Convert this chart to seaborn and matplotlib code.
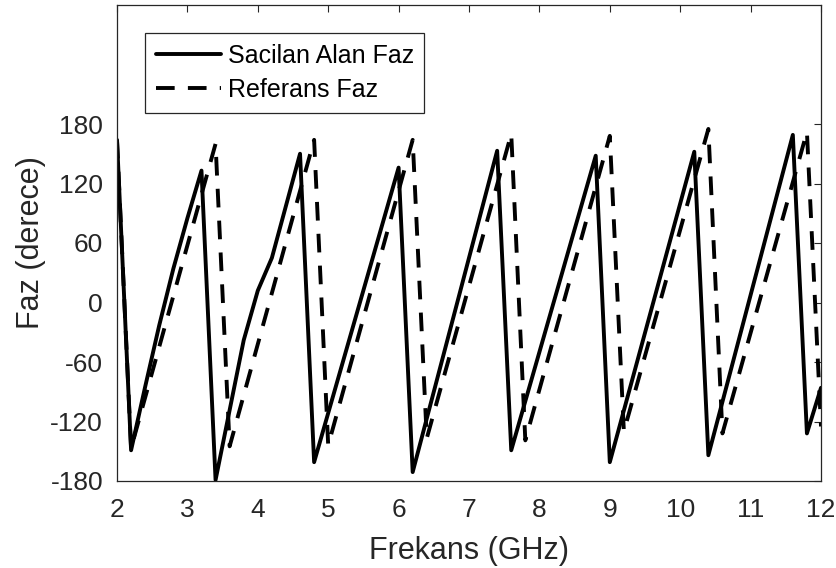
import matplotlib
matplotlib.use("Agg")
import matplotlib.pyplot as plt
import seaborn as sns
import pandas as pd

# Data (vertices of the polylines)
freq_sacilan = [2.0, 2.2, 2.4, 2.6, 2.8, 3.0, 3.2, 3.4, 3.8, 4.0, 4.2, 4.6, 4.8,
                6.0, 6.2, 7.4, 7.6, 8.8, 9.0, 10.2, 10.4, 11.6, 11.8, 12.0]
faz_sacilan = [164, -149, -85, -23, 34, 85, 133, -179, -38, 12, 45, 150, -161,
               136, -171, 153, -149, 148, -161, 152, -154, 169, -132, -86]

freq_referans = [2.0, 2.2, 3.4, 3.6, 4.8, 5.0, 6.2, 6.4, 7.6, 7.8, 9.0, 9.2,
                 10.4, 10.6, 11.8, 12.0]
faz_referans = [164, -147, 160, -145, 164, -144, 164, -137, 170, -139, 168, -130,
                175, -132, 172, -125]

series_labels = ["Sacilan Alan Faz", "Referans Faz"]
x_ticks = [2, 3, 4, 5, 6, 7, 8, 9, 10, 11, 12]
y_ticks = [-180, -120, -60, 0, 60, 120, 180]
x_label = "Frekans (GHz)"
y_label = "Faz (derece)"

sns.set_theme(style="white")
plt.rcParams["font.family"] = ["Liberation Sans", "DejaVu Sans"]

dark = "#262626"
fig = plt.figure(figsize=(8.37, 5.68), dpi=100)
ax = fig.add_axes([117 / 837, 1 - 481 / 568, 704 / 837, 476 / 568])

df_s = pd.DataFrame({"f": freq_sacilan, "p": faz_sacilan})
df_r = pd.DataFrame({"f": freq_referans, "p": faz_referans})

sns.lineplot(data=df_s, x="f", y="p", ax=ax, color="black", linewidth=2.8,
             estimator=None, sort=False, label=series_labels[0])
sns.lineplot(data=df_r, x="f", y="p", ax=ax, color="black", linewidth=2.8,
             estimator=None, sort=False, label=series_labels[1])
ax.lines[1].set_dashes([4.8, 3.4])

ax.set_xlim(2, 12)
ax.set_ylim(-180, 300)
ax.set_xticks(x_ticks)
ax.set_yticks(y_ticks)
ax.set_xticklabels([str(v) for v in x_ticks])
ax.set_yticklabels([str(v) for v in y_ticks])

ax.tick_params(direction="in", top=True, right=True, length=5, width=0.8,
               colors=dark, labelsize=19, labelcolor=dark)
ax.tick_params(axis="x", pad=12)
ax.tick_params(axis="y", pad=10)
for sp in ax.spines.values():
    sp.set_visible(True)
    sp.set_color(dark)
    sp.set_linewidth(0.9)

ax.set_xlabel(x_label, fontsize=22, color=dark, labelpad=10)
ax.set_ylabel(y_label, fontsize=22, color=dark, labelpad=3)

leg = ax.legend(loc="upper left", bbox_to_anchor=(0.04, 0.941), borderaxespad=0,
                fontsize=18, handlelength=2.6, handletextpad=0.28, borderpad=0.42,
                labelspacing=0.42, fancybox=False, framealpha=1, edgecolor=dark)
leg.get_frame().set_linewidth(0.9)
for t in leg.get_texts():
    t.set_color("black")

fig.savefig("out.png", dpi=100)
